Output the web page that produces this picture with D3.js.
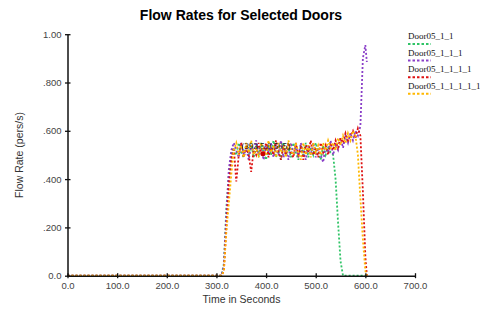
<!DOCTYPE html>
<html><head><meta charset="utf-8">
<script src="https://cdn.jsdelivr.net/npm/d3@7"></script>
<style>body{margin:0;background:#fff}svg{display:block}</style>
</head><body>
<script>
const title = "Flow Rates for Selected Doors";
const xLabel = "Time in Seconds";
const yLabel = "Flow Rate (pers/s)";
const xTicks = [0, 100, 200, 300, 400, 500, 600, 700];
const xTickLabels = ["0.0","100.0","200.0","300.0","400.0","500.0","600.0","700.0"];
const yTicks = [0, 0.2, 0.4, 0.6, 0.8, 1.0];
const yTickLabels = ["0.0",".200",".400",".600",".800","1.00"];
const seriesNames = ["Door05_1_1","Door05_1_1_1","Door05_1_1_1_1","Door05_1_1_1_1_1"];
const seriesColors = ["#2fc466","#8a3fc8","#dd1111","#ffb800"];
const times = [0,310,315,320,325,330,335,340,345,350,355,360,365,370,375,380,385,390,395,400,
  405,410,415,420,425,430,435,440,445,450,455,460,465,470,475,480,485,490,495,500,
  505,510,515,520,525,530,535,540,545,550,555,560,565,570,575,580,585,590,595,600,603];
const greenVals = [0,0,0.05,0.28,0.42,0.50,0.53,0.50,0.55,0.51,0.49,0.54,0.50,0.55,0.49,0.53,0.50,0.55,0.51,0.48,
  0.54,0.50,0.56,0.49,0.52,0.48,0.55,0.50,0.53,0.49,0.55,0.51,0.48,0.54,0.50,0.55,0.49,0.53,0.50,0.55,
  0.51,0.48,0.54,0.50,0.53,0.51,0.50,0.40,0.22,0.06,0,0,0,0,0,0,0,0,0,0,0];
const purpleVals = [0,0,0.04,0.25,0.44,0.52,0.55,0.52,0.49,0.55,0.50,0.53,0.48,0.54,0.51,0.56,0.50,0.53,0.48,0.54,
  0.51,0.55,0.49,0.53,0.50,0.56,0.49,0.52,0.48,0.55,0.50,0.54,0.49,0.55,0.51,0.48,0.54,0.50,0.55,0.49,
  0.53,0.50,0.47,0.54,0.51,0.56,0.50,0.54,0.52,0.57,0.53,0.58,0.55,0.59,0.56,0.60,0.58,0.62,0.90,0.955,0.885];
const redVals = [0,0,0.02,0.20,0.38,0.48,0.53,0.39,0.50,0.55,0.49,0.53,0.50,0.43,0.52,0.50,0.55,0.51,0.50,0.55,
  0.49,0.53,0.50,0.56,0.51,0.48,0.54,0.50,0.55,0.51,0.49,0.55,0.50,0.53,0.48,0.54,0.51,0.56,0.50,0.53,
  0.49,0.55,0.51,0.54,0.50,0.55,0.52,0.56,0.53,0.57,0.55,0.59,0.56,0.58,0.60,0.57,0.61,0.58,0.35,0.08,0];
const yellowVals = [0,0,0.02,0.18,0.30,0.42,0.52,0.55,0.50,0.54,0.49,0.55,0.51,0.56,0.50,0.53,0.49,0.55,0.52,0.50,
  0.56,0.51,0.54,0.49,0.55,0.51,0.53,0.49,0.56,0.52,0.50,0.55,0.51,0.48,0.55,0.50,0.54,0.49,0.55,0.51,
  0.54,0.50,0.55,0.52,0.56,0.53,0.55,0.52,0.57,0.54,0.58,0.55,0.59,0.56,0.60,0.58,0.50,0.32,0.15,0.02,0];
const annotation = {t: 393.5, v: 0.505, label: "(393.5,0.505)"};

const W = 480, H = 309;
const svg = d3.select("body").append("svg").attr("width", W).attr("height", H);
const x = d3.scaleLinear().domain([0, 700]).range([67.5, 415]);
const y = d3.scaleLinear().domain([0, 1]).range([275.7, 34.2]);

svg.append("text").attr("x", 241).attr("y", 20).attr("text-anchor", "middle")
  .attr("font-family", "Liberation Sans, Arial, sans-serif").attr("font-weight", "bold")
  .attr("font-size", 14).attr("fill", "#000").text(title);

const allVals = [greenVals, purpleVals, redVals, yellowVals];
const line = d3.line().x(d => x(d[0])).y(d => y(d[1]));
allVals.forEach((vals, i) => {
  svg.append("path").datum(times.map((t, k) => [t, vals[k]]))
    .attr("d", line).attr("fill", "none").attr("stroke", seriesColors[i])
    .attr("stroke-width", 1.8).attr("stroke-dasharray", "2,2");
});

// annotation
svg.append("circle").attr("cx", x(annotation.t)).attr("cy", y(annotation.v)).attr("r", 2.5).attr("fill", "#cc0000");
svg.append("text").attr("x", x(annotation.t) + 3).attr("y", y(annotation.v) - 5).attr("text-anchor", "middle")
  .attr("font-family", "Liberation Serif, serif").attr("font-size", 9).attr("fill", "#111").text(annotation.label);

// axes
const xAxis = d3.axisBottom(x).tickValues(xTicks).tickFormat((d, i) => xTickLabels[i]).tickSizeInner(3).tickSizeOuter(0).tickPadding(4);
const gx = svg.append("g").attr("transform", `translate(0,${y(0)})`).call(xAxis);
const yAxis = d3.axisLeft(y).tickValues(yTicks).tickFormat((d, i) => yTickLabels[i]).tickSizeInner(3).tickSizeOuter(0).tickPadding(3);
const gy = svg.append("g").attr("transform", `translate(${x(0)},0)`).call(yAxis);
[gx, gy].forEach(g => {
  g.select(".domain").attr("stroke", "#111").attr("stroke-width", 1.5);
  g.selectAll(".tick line").attr("stroke", "#111").attr("stroke-width", 1.3);
  g.selectAll(".tick text").attr("font-family", "Liberation Sans, Arial, sans-serif").attr("font-size", 9.5).attr("fill", "#444");
});
gx.selectAll(".tick line").attr("y1", -2.5).attr("y2", 2.5);
gy.selectAll(".tick line").attr("x1", -2.5).attr("x2", 3);

svg.append("text").attr("x", 241.5).attr("y", 302.5).attr("text-anchor", "middle")
  .attr("font-family", "Liberation Sans, Arial, sans-serif").attr("font-size", 10.5).attr("fill", "#333").text(xLabel);
svg.append("text").attr("transform", "translate(23,155) rotate(-90)").attr("text-anchor", "middle")
  .attr("font-family", "Liberation Sans, Arial, sans-serif").attr("font-size", 10.5).attr("fill", "#333").text(yLabel);

// legend
const lg = svg.append("g");
seriesNames.forEach((n, i) => {
  const by = 39 + i * 16.6;
  lg.append("text").attr("x", 408).attr("y", by).attr("font-family", "Liberation Serif, serif")
    .attr("font-size", 9).attr("fill", "#111").text(n);
  lg.append("line").attr("x1", 408).attr("x2", 431).attr("y1", by + 5).attr("y2", by + 5)
    .attr("stroke", seriesColors[i]).attr("stroke-width", 2).attr("stroke-dasharray", "2.5,2");
});
</script>
</body></html>
